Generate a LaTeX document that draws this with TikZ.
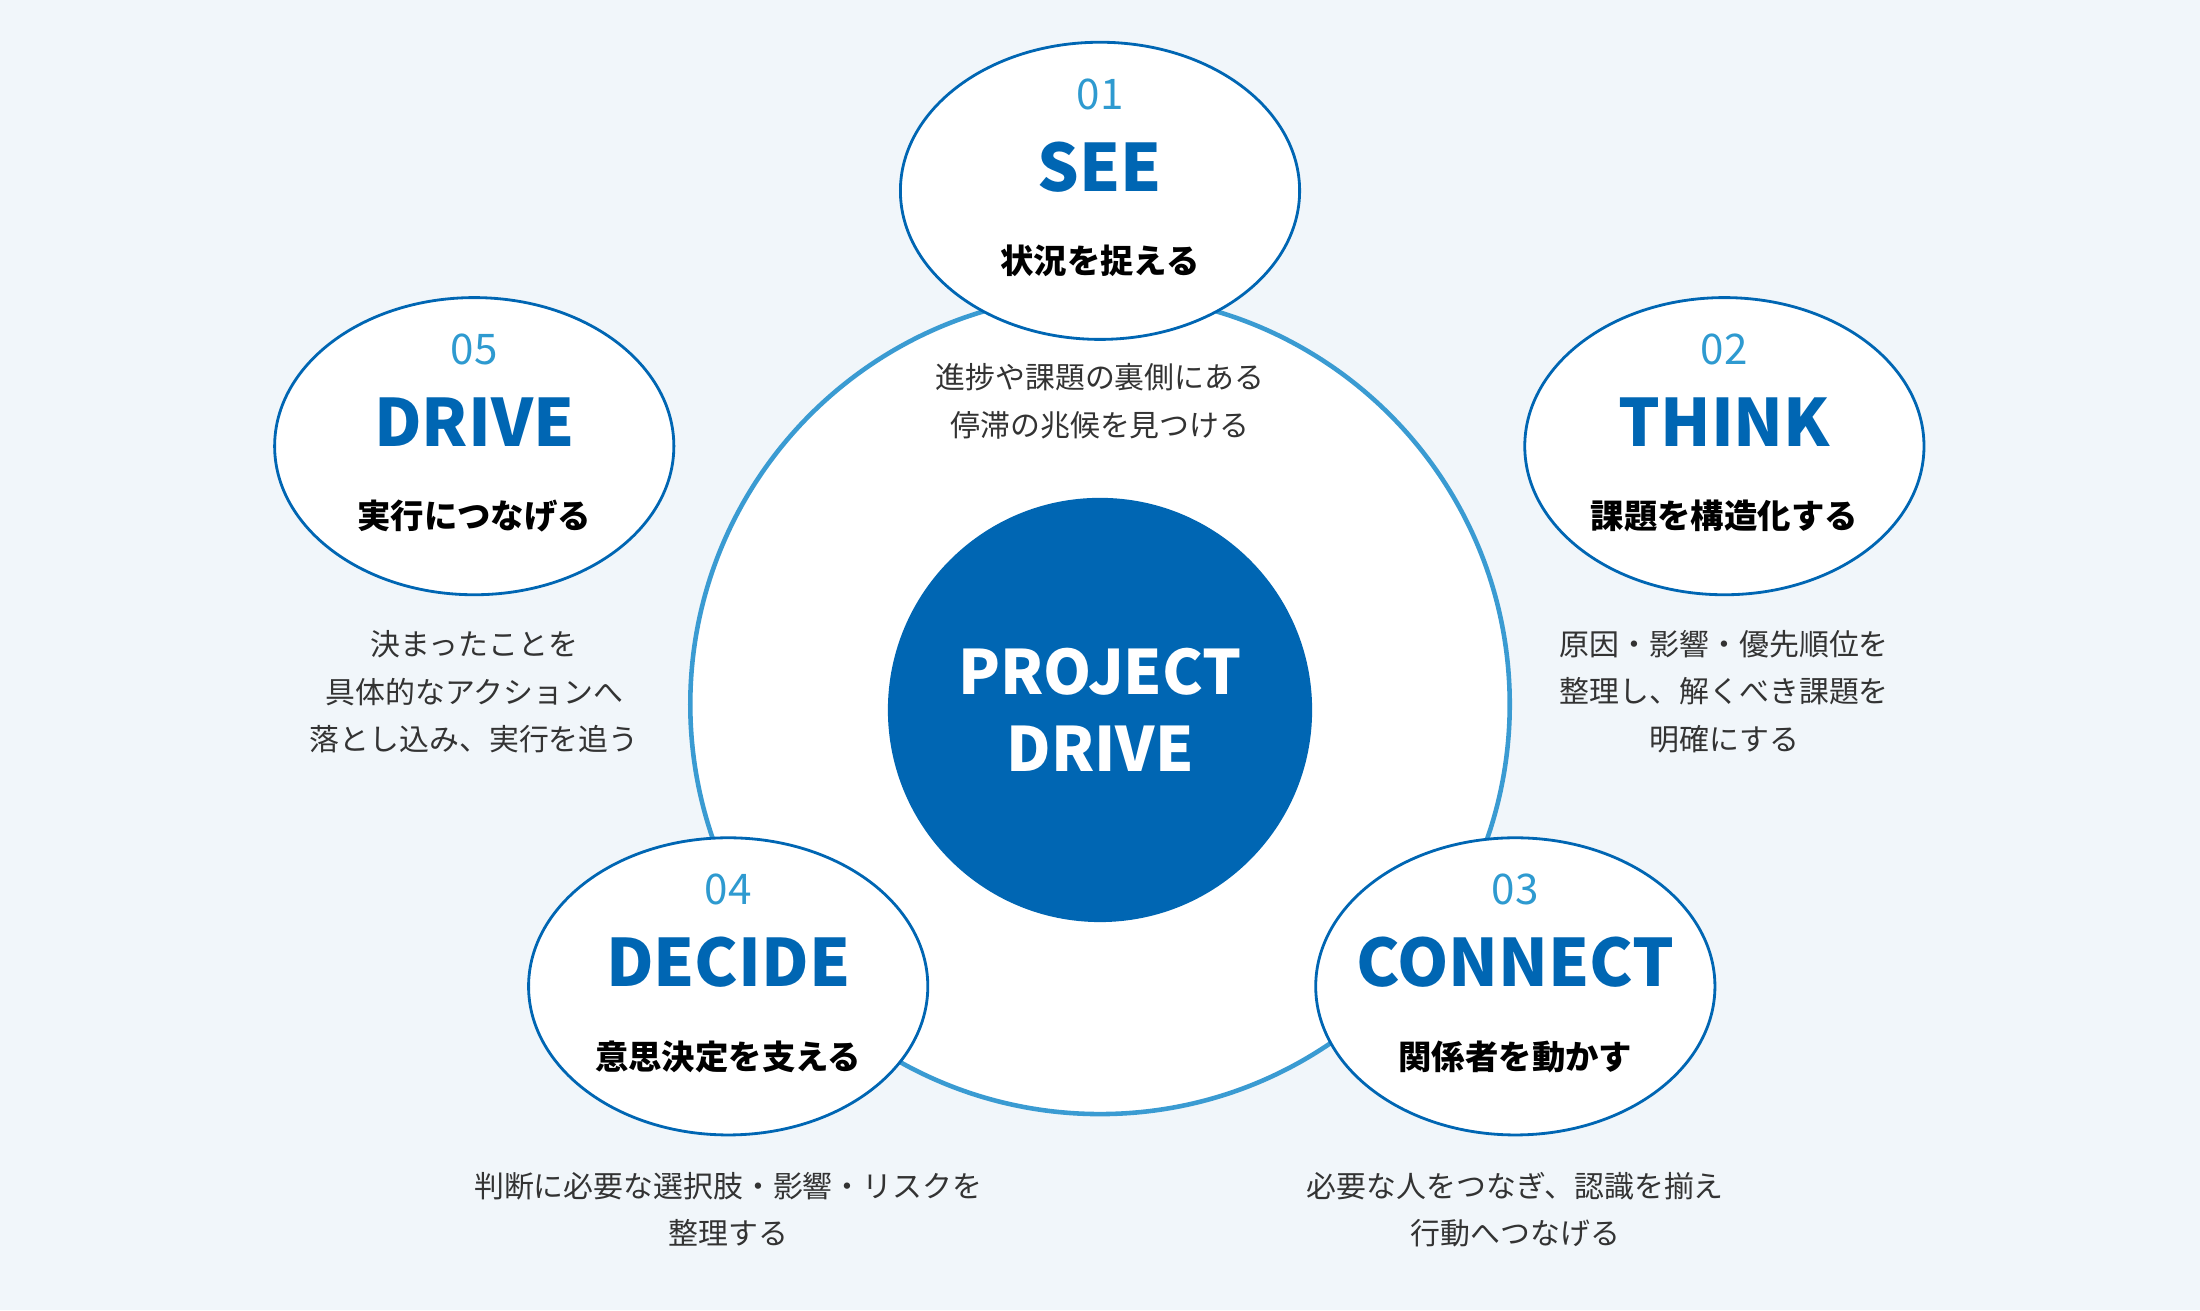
\documentclass[tikz,border=0pt]{standalone}
\usepackage{fontspec}
\setmainfont{Noto Sans CJK JP}
\usetikzlibrary{shapes.geometric,positioning}
\definecolor{bgblue}{HTML}{F1F6FA}
\definecolor{ringblue}{HTML}{3A9BD2}
\definecolor{deepblue}{HTML}{0066B3}
\definecolor{numblue}{HTML}{2E9AD0}
\definecolor{textgray}{HTML}{333333}
\begin{document}
\begin{tikzpicture}[x=0.01403cm,y=-0.01403cm,
      stage/.style={ellipse,draw=deepblue,thick,fill=white,inner sep=0pt,
                    minimum width=3.99cm,minimum height=2.97cm},
      num/.style={text=numblue,font=\fontsize{12}{14}\selectfont},
      title/.style={text=deepblue,font=\fontsize{18.6}{22}\selectfont\bfseries},
      sub/.style={text=black,font=\fontsize{9.5}{12}\selectfont\bfseries},
      desc/.style={text=textgray,align=center,font=\fontsize{8.5}{13.5}\selectfont}
    ]

    % Background
    \fill[bgblue] (0,0) rectangle (1568,934);

    % Ring and core
    \node[circle,draw=ringblue,line width=1.3pt,fill=white,minimum size=8.19cm] (ring) at (784,502) {};
    \node[circle,fill=deepblue,minimum size=4.24cm,align=center,text=white,
          font=\fontsize{17.4}{22}\selectfont\bfseries] (core) at (784,506) {PROJECT\\DRIVE};

    % Stages
    \node[stage] (see) at (784,136) {};
    \node[stage] (think) at (1229,318) {};
    \node[stage] (connect) at (1080,703) {};
    \node[stage] (decide) at (519,703) {};
    \node[stage] (drive) at (338,318) {};

    % Stage texts
    \foreach \n/\x/\y/\k/\t/\s in {
        seeT/784/136/01/SEE/状況を捉える,
        thinkT/1229/318/02/THINK/課題を構造化する,
        connectT/1080/703/03/CONNECT/関係者を動かす,
        decideT/519/703/04/DECIDE/意思決定を支える,
        driveT/338/318/05/DRIVE/実行につなげる}{
      \node[num] (\n k) at (\x,\y-69) {\k};
      \node[title] (\n t) at (\x,\y-17) {\t};
      \node[sub] (\n s) at (\x,\y+50) {\s};
    }

    % Descriptions
    \node[desc] (seeD) at (784,286) {進捗や課題の裏側にある\\停滞の兆候を見つける};
    \node[desc] (thinkD) at (1229,493) {原因・影響・優先順位を\\整理し、解くべき課題を\\明確にする};
    \node[desc] (connectD) at (1080,862) {必要な人をつなぎ、認識を揃え\\行動へつなげる};
    \node[desc] (decideD) at (519,862) {判断に必要な選択肢・影響・リスクを\\整理する};
    \node[desc] (driveD) at (338,493) {決まったことを\\具体的なアクションへ\\落とし込み、実行を追う};

  \end{tikzpicture}
\end{document}
